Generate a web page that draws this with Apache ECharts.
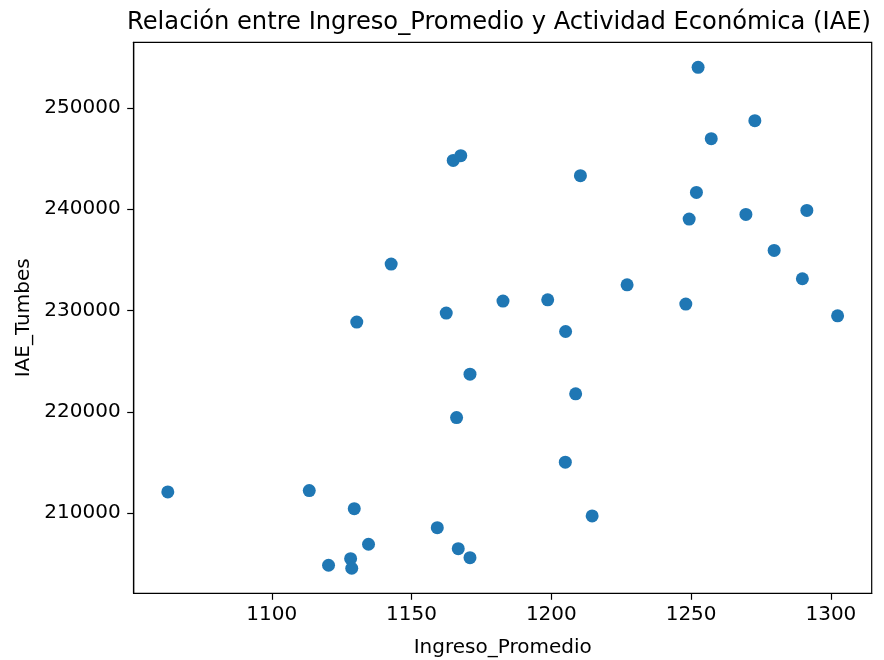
<!DOCTYPE html>
<html>
<head>
<meta charset="utf-8">
<script src="https://cdn.jsdelivr.net/npm/echarts@6/dist/echarts.min.js"></script>
<style>
html,body{margin:0;padding:0;background:#fff;}
#chart{width:884px;height:660px;}
</style>
</head>
<body>
<div id="chart"></div>
<script>
const ingresoPromedio = [
  1252.5, 1272.8, 1257.2, 1164.9, 1167.6, 1210.4, 1251.9, 1249.3, 1269.6, 1291.4,
  1142.7, 1279.7, 1227.1, 1289.8, 1182.7, 1198.7, 1248.1, 1162.4, 1302.4, 1130.4,
  1205.1, 1170.9, 1166.1, 1208.7, 1205.0, 1062.8, 1113.4, 1129.5, 1214.6, 1159.2,
  1134.6, 1166.7, 1170.9, 1128.2, 1120.3, 1128.6
];
const iaeTumbes = [
  254010, 248746, 246968, 244825, 245289, 243313, 241664, 239037, 239491, 239886,
  234592, 235935, 232547, 233140, 230937, 231066, 230641, 229752, 229486, 228863,
  227935, 223727, 219441, 221782, 215035, 212102, 212231, 210452, 209732, 208576,
  206936, 206502, 205613, 205514, 204862, 204566
];
const xTicks = [1100, 1150, 1200, 1250, 1300];
const yTicks = [210000, 220000, 230000, 240000, 250000];

const points = ingresoPromedio.map((x, i) => [x, iaeTumbes[i]]);
const font = 'DejaVu Sans';

const chart = echarts.init(document.getElementById('chart'), null, {renderer: 'canvas'});
chart.setOption({
  animation: false,
  backgroundColor: '#ffffff',
  title: {
    text: 'Relación entre Ingreso_Promedio y Actividad Económica (IAE)',
    left: 122,
    top: 6,
    textStyle: {fontFamily: font, fontSize: 24.2, fontWeight: 'normal', color: '#000'}
  },
  grid: {
    left: 133.7, right: 12.3, top: 42.3, bottom: 66.7,
    outerBoundsMode: 'none',
    containLabel: false,
    show: true, borderColor: '#000', borderWidth: 1.2, backgroundColor: 'transparent'
  },
  xAxis: {
    type: 'value',
    min: 1050.6, max: 1314.6,
    name: 'Ingreso_Promedio',
    nameLocation: 'middle',
    nameGap: 44,
    nameTextStyle: {fontFamily: font, fontSize: 20, color: '#000'},
    axisLine: {show: true, onZero: false, lineStyle: {color: '#000', width: 1.2}},
    axisTick: {show: true, length: 6.5, lineStyle: {color: '#000', width: 1.2}, customValues: xTicks},
    axisLabel: {fontFamily: font, fontSize: 20, color: '#000', margin: 11, customValues: xTicks,
      formatter: v => String(v)},
    splitLine: {show: false}
  },
  yAxis: {
    type: 'value',
    min: 202094, max: 256482,
    name: 'IAE_Tumbes',
    nameLocation: 'middle',
    nameGap: 100,
    nameRotate: 90,
    nameTextStyle: {fontFamily: font, fontSize: 20, color: '#000'},
    axisLine: {show: true, onZero: false, lineStyle: {color: '#000', width: 1.2}},
    axisTick: {show: true, length: 6.5, lineStyle: {color: '#000', width: 1.2}, customValues: yTicks},
    axisLabel: {fontFamily: font, fontSize: 20, color: '#000', margin: 13, customValues: yTicks,
      formatter: v => String(v)},
    splitLine: {show: false}
  },
  series: [{
    type: 'scatter',
    data: points,
    symbol: 'circle',
    symbolSize: 13,
    itemStyle: {color: '#1f77b4', opacity: 1}
  }]
});
</script>
</body>
</html>
